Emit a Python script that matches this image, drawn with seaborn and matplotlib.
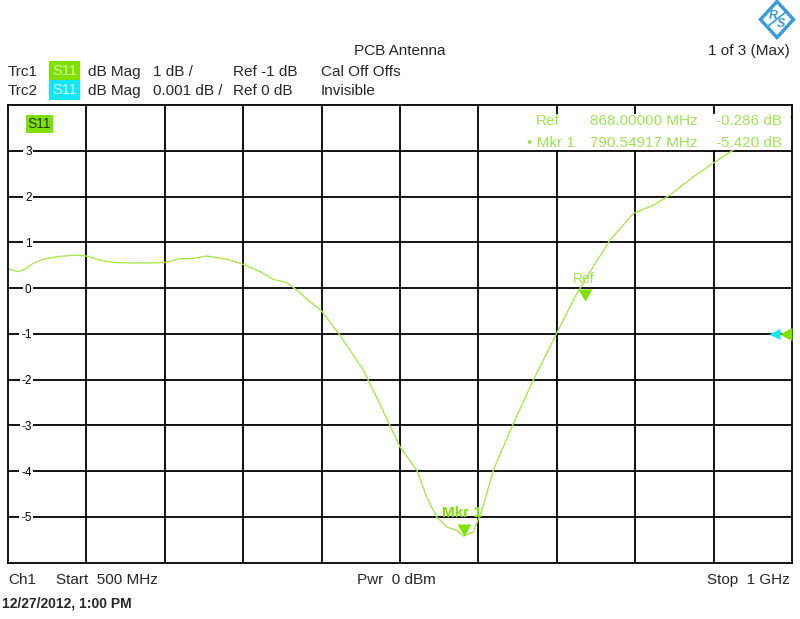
import numpy as np
import pandas as pd
import matplotlib
matplotlib.use('Agg')
import matplotlib.pyplot as plt
import matplotlib.transforms as mtransforms
from matplotlib.path import Path
from matplotlib.patches import Rectangle, Polygon
import seaborn as sns

# S11 trace (MHz, dB)
freq_mhz = [500, 503, 506.6, 511, 516, 522.5, 531, 542.7, 550, 558.7, 567, 575.7,
            590.6, 600, 609.7, 618, 626.7, 639.5, 650, 660.7, 669, 677.8, 684, 691,
            700, 711.7, 726.6, 737, 750, 760.7, 767, 773.4, 779.8, 786, 790.5, 796.8,
            803, 809.5, 822.3, 835, 849.9, 856.3, 862.7, 873.3, 884, 898.8, 911.6,
            922, 937, 949.8, 962.6, 975, 1000]
s11_db = [0.43, 0.39, 0.36, 0.42, 0.54, 0.63, 0.685, 0.72, 0.70, 0.61, 0.56, 0.55,
          0.55, 0.56, 0.64, 0.65, 0.70, 0.63, 0.52, 0.36, 0.19, 0.12, -0.04, -0.25,
          -0.50, -1.03, -1.79, -2.52, -3.47, -3.98, -4.56, -5.00, -5.22, -5.29, -5.42, -5.33,
          -4.78, -3.98, -2.96, -2.01, -0.99, -0.55, -0.12, 0.47, 1.05, 1.63, 1.81,
          2.03, 2.43, 2.73, 3.02, 3.30, 3.75]

y_ticks = [3, 2, 1, 0, -1, -2, -3, -4, -5]
x_grid = [550, 600, 650, 700, 750, 800, 850, 900, 950]

marker_names = ['Ref', 'Mkr 1']
marker_freq = [868.0, 790.54917]
marker_db = [-0.286, -5.420]
ref_level_db = -1

TRACE = '#a8e650'
GREEN = '#7fe000'
CYAN = '#14e4f4'
LOGO = '#3d9bd8'

sns.set_theme(style='white')
plt.rcParams['font.family'] = ['Liberation Sans', 'DejaVu Sans']

W, H = 800, 619
fig = plt.figure(figsize=(W / 100, H / 100), dpi=100)
fig.patch.set_facecolor('white')


def px(x, y):
    return x / W, 1 - y / H


ax = fig.add_axes([8 / W, 1 - 562.7 / H, 784 / W, 457.7 / H])
df = pd.DataFrame({'freq': freq_mhz, 's11': s11_db})
sns.lineplot(data=df, x='freq', y='s11', ax=ax, color=TRACE, lw=1.0)

ax.set_xlim(500, 1000)
ax.set_ylim(-6, 4)
ax.set_xticks(x_grid)
ax.set_xticklabels([])
ax.set_yticks(y_ticks)
ax.set_yticklabels([str(t) for t in y_ticks])
ax.tick_params(axis='x', length=0)
ax.tick_params(axis='y', length=0, pad=-17, labelsize=8.5, labelcolor='black')
for lbl in ax.get_yticklabels():
    lbl.set_bbox(dict(facecolor='white', edgecolor='none', pad=1.2))
ax.grid(True, color='black', lw=1.3)
ax.set_xlabel('')
ax.set_ylabel('')
for sp in ax.spines.values():
    sp.set_color('black')
    sp.set_linewidth(1.3)

# trace name tag inside plot
fig.text(*px(39.5, 124), 'S11', ha='center', va='center', fontsize=10,
         color='#2b3a12',
         bbox=dict(facecolor=GREEN, edgecolor='none', boxstyle='square,pad=0.12'))

# markers (down-pointing triangles with the tip on the value)
tri_down = Path([(-0.58, 1.0), (0.58, 1.0), (0.0, 0.0), (-0.58, 1.0)],
                [Path.MOVETO, Path.LINETO, Path.LINETO, Path.CLOSEPOLY])
ax.plot(marker_freq, marker_db, linestyle='none', marker=tri_down, ms=17.3,
        color=GREEN, markeredgewidth=0, zorder=4)
ax.annotate(marker_names[1], xy=(marker_freq[1], marker_db[1]), xytext=(-1.5, 13.7),
            textcoords='offset points', ha='center', va='baseline',
            fontsize=11, fontweight='bold', color=GREEN, zorder=5)
ax.annotate(marker_names[0], xy=(marker_freq[0], marker_db[0]), xytext=(-1, 12.8),
            textcoords='offset points', ha='center', va='baseline',
            fontsize=10, color='#a0e050', zorder=5)

# reference level arrows at right edge
tri_left = Path([(0.0, 0.0), (1.0, -0.5), (1.0, 0.5), (0.0, 0.0)],
                [Path.MOVETO, Path.LINETO, Path.LINETO, Path.CLOSEPOLY])
blend = mtransforms.blended_transform_factory(ax.transAxes, ax.transData)
ax.plot([0.9707], [ref_level_db], transform=blend, marker=tri_left, ms=15.8,
        color=CYAN, markeredgewidth=0, clip_on=False, zorder=4)
ax.plot([0.9834], [ref_level_db], transform=blend, marker=tri_left, ms=18.7,
        color=GREEN, markeredgewidth=0, clip_on=False, zorder=5)

# marker readout box
ax.add_patch(Rectangle((0.659, 0.9027), 0.339, 0.0776, transform=ax.transAxes,
                       facecolor='white', edgecolor='none', zorder=3))
readout = '#9ee255'
fig.text(*px(536, 125), marker_names[0], fontsize=11, color=readout, va='baseline')
fig.text(*px(698, 125), f'{marker_freq[0]:.5f} MHz', fontsize=11, color=readout,
         va='baseline', ha='right')
fig.text(*px(782, 125), f'{marker_db[0]:.3f} dB', fontsize=11, color=readout,
         va='baseline', ha='right')
fig.text(*px(527, 147), '\u2022 ' + marker_names[1], fontsize=11, color=readout, va='baseline')
fig.text(*px(698, 147), f'{marker_freq[1]:.5f} MHz', fontsize=11, color=readout,
         va='baseline', ha='right')
fig.text(*px(782, 147), f'{marker_db[1]:.3f} dB', fontsize=11, color=readout,
         va='baseline', ha='right')

# header
fig.text(*px(400, 55), 'PCB Antenna', fontsize=11, ha='center', va='baseline')
fig.text(*px(790, 55), '1 of 3 (Max)', fontsize=11, ha='right', va='baseline')
rows = [(76, GREEN, '#d8ffa0', '1 dB /', 'Ref -1 dB', 'Cal Off Offs', 'Trc1'),
        (95, CYAN, '#c8ffff', '0.001 dB /', 'Ref 0 dB', 'Invisible', 'Trc2')]
for base, col, tcol, scale, ref, extra, name in rows:
    fig.text(*px(8, base), name, fontsize=11, va='baseline')
    fig.text(*px(64.5, base - 5), 'S11', fontsize=10.5, ha='center', va='center',
             color=tcol, bbox=dict(facecolor=col, edgecolor='none',
                                   boxstyle='square,pad=0.18'))
    fig.text(*px(88, base), 'dB Mag', fontsize=11, va='baseline')
    fig.text(*px(153, base), scale, fontsize=11, va='baseline')
    fig.text(*px(233, base), ref, fontsize=11, va='baseline')
    fig.text(*px(321, base), extra, fontsize=11, va='baseline')

# footer
fig.text(*px(8, 584), 'Ch1', fontsize=11, va='baseline')
fig.text(*px(56, 584), 'Start  500 MHz', fontsize=11, va='baseline')
fig.text(*px(357, 584), 'Pwr  0 dBm', fontsize=11, va='baseline')
fig.text(*px(790, 584), 'Stop  1 GHz', fontsize=11, va='baseline', ha='right')
fig.text(*px(2, 608), '12/27/2012, 1:00 PM', fontsize=10, fontweight='bold',
         va='baseline')

# R&S style logo
cx, cy, hw, hh = 777, 19.5, 16.5, 18
diamond = [px(cx - hw, cy), px(cx, cy - hh), px(cx + hw, cy), px(cx, cy + hh)]
fig.patches.append(Polygon(diamond, closed=True, transform=fig.transFigure,
                           facecolor='white', edgecolor=LOGO, lw=2.5))
fig.text(*px(773, 16), 'R', fontsize=9, fontweight='bold', color=LOGO,
         ha='center', va='center', style='italic')
fig.text(*px(781, 24), 'S', fontsize=9, fontweight='bold', color=LOGO,
         ha='center', va='center', style='italic')
fig.lines.append(plt.Line2D([px(767, 27)[0], px(787, 11)[0]],
                            [px(767, 27)[1], px(787, 11)[1]],
                            transform=fig.transFigure, color=LOGO, lw=1.2))

fig.savefig('out.png', dpi=100, facecolor='white')
